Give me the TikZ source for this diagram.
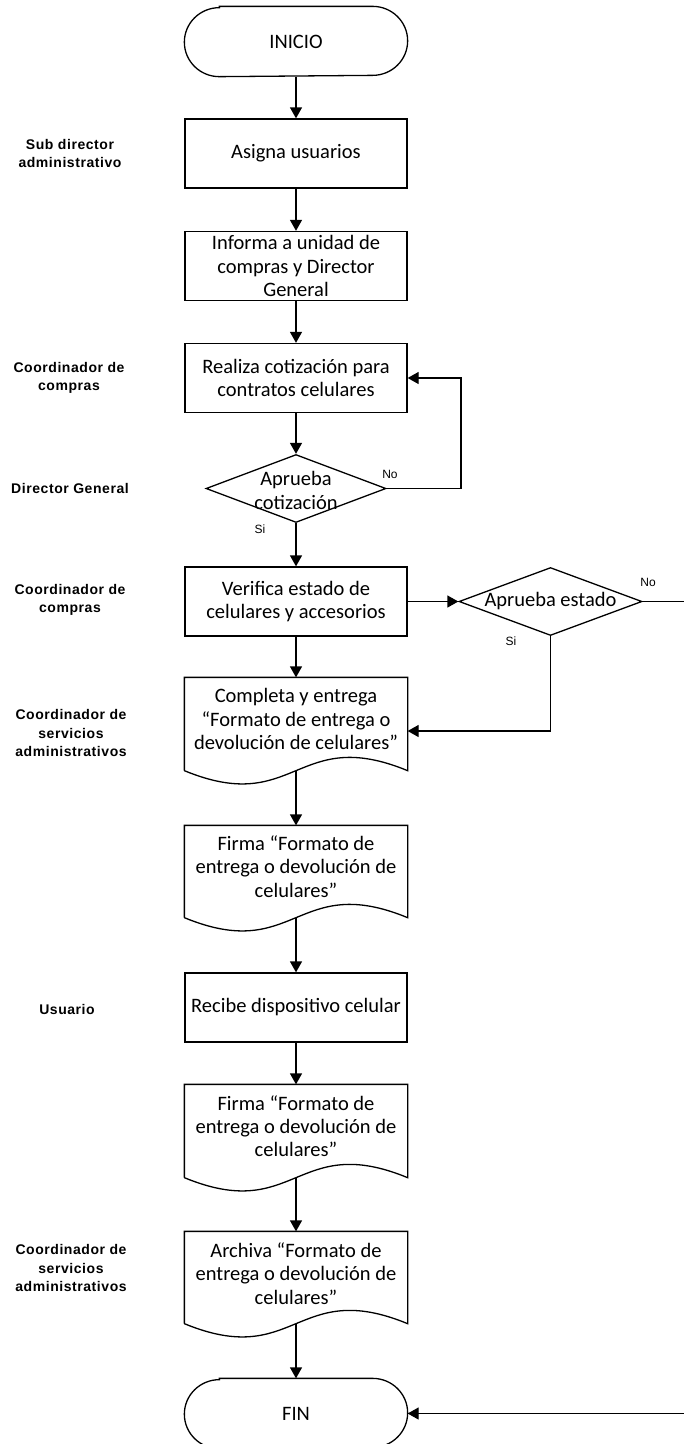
\documentclass[tikz,border=0pt]{standalone}
\usepackage{fontspec}
\setmainfont{Carlito}
\newfontfamily\arialfont{Liberation Sans}
\newfontfamily\arialspaced[LetterSpace=4.0]{Liberation Sans}
\usetikzlibrary{arrows.meta,shapes.geometric,calc}
\begin{document}
\begin{tikzpicture}[x=1pt,y=1pt,
  line width=1.3pt,
  arr/.style={-{Triangle[length=11pt,width=12pt]}},
  boxtxt/.style={font=\fontsize{20.5}{23.3}\selectfont, align=center},
  procbox/.style={draw, boxtxt, fill=white, minimum width=222pt, minimum height=69pt, inner sep=0pt},
  shapeonly/.style={boxtxt, minimum width=222pt, inner sep=0pt},
  decis/.style={diamond, draw, fill=white, minimum width=#1, minimum height=68pt, inner sep=0pt},
  lane/.style={font=\arialspaced\bfseries\fontsize{14}{18.5}\selectfont, align=center},
  small/.style={font=\arialfont\fontsize{12}{14}\selectfont}
]
\useasboundingbox (0,0) rectangle (684,-1444);
\clip (0,0) rectangle (684,-1444);

\newcommand\termpath[1]{%
  \draw ([xshift=35pt]#1.north west) -- ([xshift=-35pt]#1.north east)
    arc[start angle=90,end angle=-90,x radius=35pt,y radius=34.5pt]
    -- ([xshift=35pt]#1.south west)
    arc[start angle=270,end angle=90,x radius=35pt,y radius=34.5pt] -- cycle;}
\newcommand\docpath[1]{%
  \draw (#1.south west) -- (#1.north west) -- (#1.north east) -- (#1.south east)
    .. controls ($(#1.south)+(0,46)$) and ($(#1.south)+(0,-46)$) .. (#1.south west);}

% terminators
\node[shapeonly, minimum height=69pt] (inicio) at (296,-41.5) {INICIO};
\termpath{inicio}
\node[shapeonly, minimum height=69pt] (fin) at (296,-1413.5) {FIN};
\termpath{fin}

% process boxes
\node[procbox] (asigna) at (296,-153.5) {Asigna usuarios};
\node[procbox] (informa) at (296,-266) {Informa a unidad de\\compras y Director\\General};
\node[procbox] (realiza) at (296,-378) {Realiza cotización para\\contratos celulares};
\node[decis=180pt] (d1) at (296,-488.5) {};
\node[boxtxt] (d1t) at (296,-490.5) {Aprueba\\cotización};
\node[procbox] (verifica) at (296,-601.5) {Verifica estado de\\celulares y accesorios};
\node[decis=183pt] (d2) at (550.5,-601.5) {};
\node[boxtxt] (d2t) at (550.5,-601) {Aprueba estado};

% documents
\node[shapeonly, minimum height=92pt,
  label={[boxtxt,yshift=5pt]center:Completa y entrega\\“Formato de entrega o\\devolución de celulares”}] (completa) at (296,-724) {};
\docpath{completa}
\node[shapeonly, minimum height=91pt,
  label={[boxtxt,yshift=5pt]center:Firma “Formato de\\entrega o devolución de\\celulares”}] (firma1) at (296,-871.5) {};
\docpath{firma1}
\node[procbox] (recibe) at (296,-1007.5) {Recibe dispositivo celular};
\node[shapeonly, minimum height=92pt,
  label={[boxtxt,yshift=5pt]center:Firma “Formato de\\entrega o devolución de\\celulares”}] (firma2) at (296,-1131) {};
\docpath{firma2}
\node[shapeonly, minimum height=91pt,
  label={[boxtxt,yshift=4pt]center:Archiva “Formato de\\entrega o devolución de\\celulares”}] (archiva) at (296,-1277.5) {};
\docpath{archiva}

% connectors
\draw[arr] (inicio) -- (asigna);
\draw[arr] (asigna) -- (informa);
\draw[arr] (informa) -- (realiza);
\draw[arr] (realiza) -- (d1);
\draw[arr] (d1) -- (verifica);
\coordinate (loop) at (461,-378);
\draw[arr] (d1.east) -| (loop) -- (realiza.east);
\draw[arr] (verifica.east) -- (d2.west);
\coordinate (r1) at (700,-601.5);
\coordinate (r2) at (700,-1413.5);
\draw[arr] (d2.east) -- (r1) -- (r2) -- (fin.east);
\coordinate (s1) at (550.5,-731);
\draw[arr] (d2.south) -- (s1) -- (completa.east |- s1);
\draw[arr] (verifica) -- (completa);
\draw[arr] (completa.south) -- (firma1.north);
\draw[arr] (firma1.south) -- (recibe.north);
\draw[arr] (recibe) -- (firma2);
\draw[arr] (firma2.south) -- (archiva.north);
\draw[arr] (archiva.south) -- (fin.north);

% branch labels
\node[small] (no1) at (390,-474) {No};
\node[small] (si1) at (260,-529) {Si};
\node[small] (no2) at (648,-582) {No};
\node[small] (si2) at (511,-641) {Si};

% lane labels
\node[lane] (l1) at (70,-153.5) {Sub director\\administrativo};
\node[lane] (l2) at (69,-378) {Coordinador de\\compras};
\node[lane] (l3) at (70,-488) {Director General};
\node[lane] (l4) at (70,-600) {Coordinador de\\compras};
\node[lane] (l5) at (71,-733) {Coordinador de\\servicios\\administrativos};
\node[lane] (l6) at (67,-1009) {Usuario};
\node[lane] (l7) at (71,-1268) {Coordinador de\\servicios\\administrativos};
\end{tikzpicture}
\end{document}
